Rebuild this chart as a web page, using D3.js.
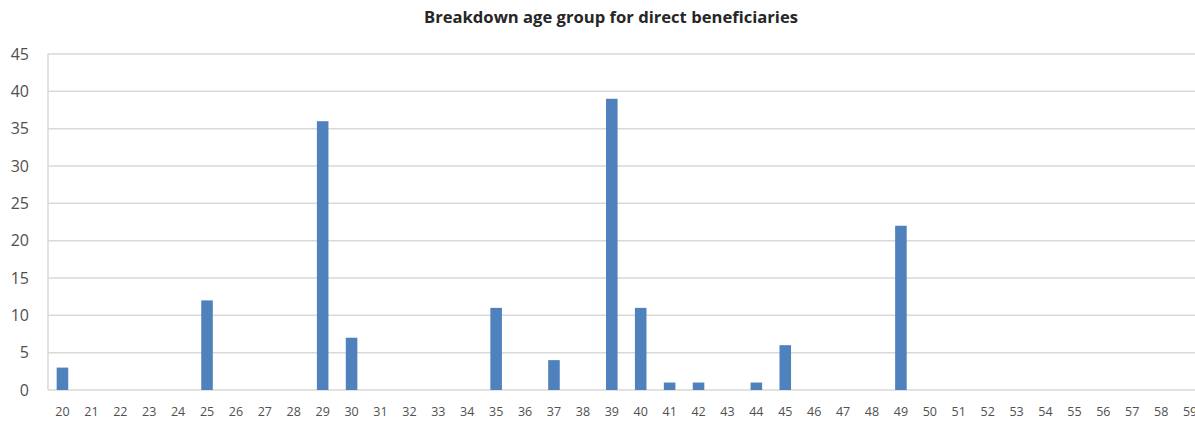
<!DOCTYPE html>
<html><head><meta charset="utf-8">
<script src="https://cdn.jsdelivr.net/npm/d3@7"></script>
<style>body{margin:0;background:#fff}svg{display:block}</style>
</head><body>
<svg id="c" width="1195" height="424"></svg>
<script>
const categories = d3.range(20, 60).map(String);
const barAges = ["20","25","29","30","35","37","39","40","41","42","44","45","49"];
const barValues = [3,12,36,7,11,4,39,11,1,1,1,6,22];
const yTicks = [0,5,10,15,20,25,30,35,40,45];
const title = "Breakdown age group for direct beneficiaries";

const data = categories.map(c => {
  const i = barAges.indexOf(c);
  return {cat: c, value: i >= 0 ? barValues[i] : 0};
});

const svg = d3.select("#c");
const mLeft = 48, mRight = 1204.5, mTop = 54, mBottom = 390;
const x = d3.scaleBand().domain(categories).range([mLeft, mRight]).paddingInner(0.6).paddingOuter(0.3);
const y = d3.scaleLinear().domain([0, 45]).range([mBottom, mTop]);

svg.append("g").selectAll("line").data(yTicks).join("line")
  .attr("x1", mLeft).attr("x2", 1195)
  .attr("y1", d => y(d)).attr("y2", d => y(d))
  .attr("stroke", "#d9d9d9").attr("stroke-width", 1.5);
svg.append("line").attr("x1", mLeft).attr("x2", mLeft).attr("y1", mTop).attr("y2", mBottom)
  .attr("stroke", "#d9d9d9").attr("stroke-width", 1.5);

svg.append("g").selectAll("rect").data(data.filter(d => d.value > 0)).join("rect")
  .attr("x", d => x(d.cat)).attr("width", x.bandwidth())
  .attr("y", d => y(d.value)).attr("height", d => y(0) - y(d.value))
  .attr("fill", "#4f81bd");

const ya = svg.append("g").attr("transform", `translate(${mLeft - 19},0)`)
  .call(d3.axisLeft(y).tickValues(yTicks).tickSize(0).tickPadding(0));
ya.select(".domain").remove();
ya.selectAll("text").attr("font-family", "Open Sans, sans-serif").attr("font-size", 16).attr("fill", "#505050");

const xa = svg.append("g").attr("transform", `translate(0,${mBottom})`)
  .call(d3.axisBottom(x).tickSize(0).tickPadding(17));
xa.select(".domain").remove();
xa.selectAll("text").attr("font-family", "Open Sans, sans-serif").attr("font-size", 12.5).attr("fill", "#505050");

svg.append("text").attr("x", 611).attr("y", 23).attr("text-anchor", "middle")
  .attr("font-family", "Open Sans, sans-serif").attr("font-weight", "bold").attr("font-size", 16)
  .attr("textLength", 374).attr("lengthAdjust", "spacingAndGlyphs")
  .attr("fill", "#262626").text(title);
</script>
</body></html>
